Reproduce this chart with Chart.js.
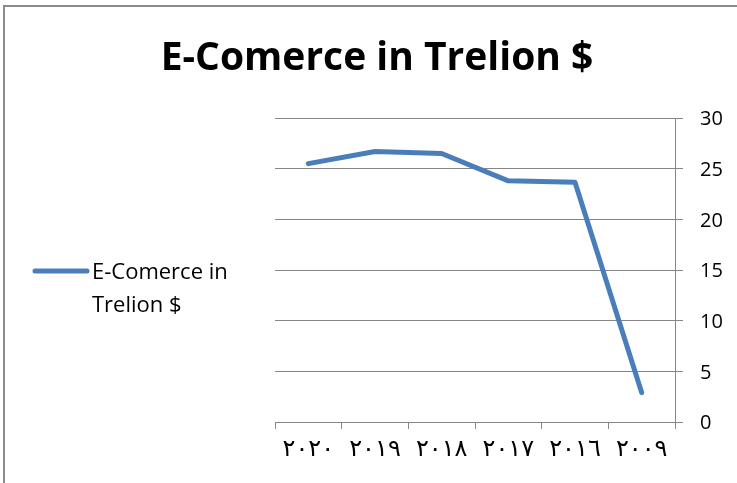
<!DOCTYPE html>
<html lang="en">
<head>
    <meta charset="UTF-8">
    <title>E-Comerce in Trelion $</title>
    <script src="https://cdn.jsdelivr.net/npm/chart.js"></script>
    <style>
        html, body { margin: 0; padding: 0; background: #fff; }
        .marco {
            position: absolute; left: 3px; top: 5px;
            width: 800px; height: 600px;
            border-left: 2px solid #8c8c8c;
            border-top: 2px solid #8c8c8c;
        }
        .lienzo { position: absolute; left: 0; top: 0; width: 737px; height: 483px; }
    </style>
</head>
<body>
    <div class="marco"></div>
    <div class="lienzo">
        <canvas id="grafico-ecommerce" width="737" height="483"></canvas>
    </div>

    <script>
        // Datos del grafico
        const anios = ['٢٠٢٠', '٢٠١٩', '٢٠١٨', '٢٠١٧', '٢٠١٦', '٢٠٠٩'];
        const valores = [25.5, 26.7, 26.5, 23.8, 23.65, 2.9];
        const serie = 'E-Comerce in Trelion $';
        const lineasLeyenda = ['E-Comerce in', 'Trelion $'];

        const fuente = "'Open Sans', 'DejaVu Sans', sans-serif";
        const gris = '#868686';
        const azul = '#4a7ebb';

        // Titulo centrado sobre todo el lienzo
        const titulo = {
            id: 'titulo',
            afterDraw(chart) {
                const c = chart.ctx;
                c.save();
                c.fillStyle = '#000';
                c.font = 'bold 39px ' + fuente;
                c.textAlign = 'center';
                c.textBaseline = 'alphabetic';
                c.fillText(serie, 377, 70);
                c.restore();
            }
        };

        // Leyenda a la izquierda
        const leyenda = {
            id: 'leyenda',
            afterDraw(chart) {
                const c = chart.ctx;
                c.save();
                c.strokeStyle = azul;
                c.lineWidth = 5;
                c.lineCap = 'round';
                c.beginPath();
                c.moveTo(35, 271);
                c.lineTo(87, 271);
                c.stroke();
                c.fillStyle = '#000';
                c.font = '22px ' + fuente;
                c.textBaseline = 'alphabetic';
                c.fillText(lineasLeyenda[0], 92, 279);
                c.fillText(lineasLeyenda[1], 92, 312);
                c.restore();
            }
        };

        // Etiquetas del eje Y alineadas a la izquierda, a la derecha del eje
        const etiquetasY = {
            id: 'etiquetasY',
            afterDraw(chart) {
                const eje = chart.scales.y;
                const c = chart.ctx;
                c.save();
                c.fillStyle = '#000';
                c.font = '20px ' + fuente;
                c.textAlign = 'left';
                c.textBaseline = 'middle';
                eje.ticks.forEach(t => {
                    c.fillText(String(t.value), eje.left + 25, eje.getPixelForValue(t.value) + 1.5);
                });
                c.restore();
            }
        };

        const ctx = document.getElementById('grafico-ecommerce').getContext('2d');
        new Chart(ctx, {
            type: 'line',
            data: {
                labels: anios,
                datasets: [{
                    label: serie,
                    data: valores,
                    borderColor: azul,
                    borderWidth: 5,
                    borderJoinStyle: 'round',
                    borderCapStyle: 'round',
                    pointRadius: 0,
                    tension: 0,
                    fill: false
                }]
            },
            options: {
                responsive: false,
                animation: false,
                layout: { padding: { left: 275, top: 118, right: 0, bottom: 0 } },
                plugins: {
                    legend: { display: false },
                    tooltip: { enabled: false },
                    title: { display: false }
                },
                scales: {
                    x: {
                        offset: true,
                        grid: {
                            offset: true,
                            drawOnChartArea: false,
                            drawTicks: true,
                            tickLength: 7,
                            color: gris,
                            lineWidth: 1
                        },
                        border: { display: true, color: gris, width: 1 },
                        ticks: {
                            color: '#000',
                            font: { family: fuente, size: 24 },
                            padding: 6,
                            maxRotation: 0
                        },
                        afterFit(scale) { scale.height = 61; }
                    },
                    y: {
                        position: 'right',
                        min: 0,
                        max: 30,
                        grid: {
                            color: gris,
                            lineWidth: 1,
                            tickLength: 8
                        },
                        border: { display: true, color: gris, width: 1 },
                        ticks: {
                            stepSize: 5,
                            display: true,
                            color: 'rgba(0,0,0,0)',
                            font: { family: fuente, size: 20 }
                        },
                        afterFit(scale) { scale.width = 62; }
                    }
                }
            },
            plugins: [titulo, leyenda, etiquetasY]
        });
    </script>
</body>
</html>
